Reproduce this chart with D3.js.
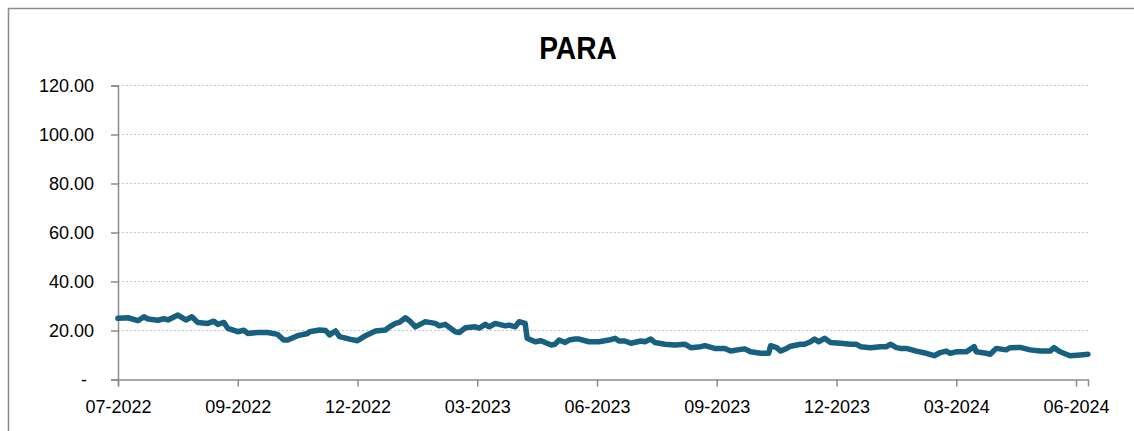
<!DOCTYPE html>
<html>
<head>
<meta charset="utf-8">
<script src="https://cdn.jsdelivr.net/npm/d3@7"></script>
<style>
    body { margin: 0; background: #ffffff; }
    svg { display: block; font-family: "Liberation Sans", Arial, sans-serif; }
</style>
</head>
<body>
<svg id="chart" width="1134" height="431"></svg>
<script>
const title = "PARA";

// trading-day offsets from the first point, and the price read at each one
const days = [
    0, 5, 10, 13, 15, 20, 23, 25, 30, 34, 37, 40, 45, 48, 50, 53, 55, 60, 63, 65,
    70, 75, 80, 83, 85, 90, 95, 96, 101, 104, 106, 109, 111, 116, 120, 124, 129, 134, 136, 139,
    141, 144, 146, 149, 154, 156, 159, 161, 164, 169, 171, 174, 179, 181, 184, 186, 189, 194, 196, 199,
    201, 204, 205, 207, 209, 212, 214, 217, 219, 221, 224, 226, 229, 231, 236, 241, 246, 249, 251, 254,
    257, 262, 264, 267, 269, 274, 279, 284, 287, 292, 294, 299, 304, 307, 312, 314, 317, 322, 326, 327,
    330, 332, 335, 337, 342, 344, 347, 349, 351, 354, 357, 362, 367, 370, 372, 377, 382, 385, 387, 390,
    392, 395, 400, 405, 409, 412, 415, 417, 420, 425, 429, 430, 435, 437, 440, 445, 447, 452, 457, 462,
    467, 469, 472, 477, 482, 486
];
const prices = [
    25.0, 25.2, 24.0, 25.6, 24.7, 24.2, 24.8, 24.3, 26.3, 24.3, 25.6, 23.3, 22.9, 23.8, 22.5, 23.3, 20.9, 19.5, 20.1, 18.8,
    19.2, 19.2, 18.4, 16.1, 16.1, 17.9, 18.8, 19.5, 20.2, 20.0, 18.2, 19.8, 17.5, 16.5, 15.8, 17.9, 19.8, 20.2, 21.5, 22.9,
    23.3, 25.2, 24.0, 21.5, 23.6, 23.3, 22.9, 21.9, 22.5, 19.5, 19.2, 21.1, 21.5, 21.0, 22.5, 21.5, 22.9, 21.9, 22.2, 21.5,
    23.6, 22.9, 16.8, 16.1, 15.4, 15.8, 15.1, 14.1, 14.4, 16.1, 15.1, 16.1, 16.5, 16.5, 15.4, 15.4, 16.1, 16.8, 15.7, 15.7,
    14.8, 15.7, 15.4, 16.5, 15.1, 14.4, 14.1, 14.4, 13.0, 13.4, 13.8, 12.7, 12.7, 11.6, 12.3, 12.5, 11.3, 10.7, 10.7, 13.8,
    13.0, 11.6, 12.7, 13.6, 14.4, 14.4, 15.4, 16.5, 15.4, 16.8, 15.1, 14.8, 14.4, 14.4, 13.4, 13.0, 13.4, 13.4, 14.4, 13.0,
    12.7, 12.7, 11.6, 10.7, 9.7, 11.0, 11.6, 10.7, 11.3, 11.3, 13.4, 11.3, 10.7, 10.3, 12.7, 12.1, 13.0, 13.1, 12.1, 11.6,
    11.6, 13.0, 11.3, 9.7, 10.0, 10.3
];

const yTicks = [0, 20, 40, 60, 80, 100, 120];
const xTickDays = [0, 60, 120, 180, 240, 300, 360, 420, 480];
const xTickLabels = ["07-2022", "09-2022", "12-2022", "03-2023", "06-2023", "09-2023", "12-2023", "03-2024", "06-2024"];
const lastDay = 486;

function drawChart() {
    const svg = d3.select("#chart");

    const left = 118, right = 1088, top = 85.5, bottom = 379.5;

    const x = d3.scaleLinear().domain([0, lastDay]).range([left, right]);
    const y = d3.scaleLinear().domain([0, 120]).range([bottom, top]);

    // outer frame (runs off the right and bottom of the picture)
    svg.append("rect")
        .attr("x", 8.5).attr("y", 8.5)
        .attr("width", 1200).attr("height", 500)
        .attr("fill", "none")
        .attr("stroke", "#8c8c8c")
        .attr("stroke-width", 1.5);

    // no narrow font installed, so squeeze the bold title a little
    svg.append("text")
        .attr("transform", "translate(578,59) scale(0.88,1)")
        .attr("text-anchor", "middle")
        .attr("font-size", "32px")
        .attr("font-weight", "bold")
        .attr("fill", "#000")
        .text(title);

    // dotted gridlines
    svg.append("g")
        .selectAll("line")
        .data(yTicks.filter(t => t > 0))
        .enter().append("line")
        .attr("x1", left).attr("x2", right + 1)
        .attr("y1", d => y(d)).attr("y2", d => y(d))
        .attr("stroke", "#c8c8c8")
        .attr("stroke-width", 1)
        .attr("stroke-dasharray", "2,2");

    const yAxis = d3.axisLeft(y)
        .tickValues(yTicks)
        .tickSize(7)
        .tickPadding(17)
        .tickFormat(d => d === 0 ? "-" : d3.format(".2f")(d));

    const gy = svg.append("g")
        .attr("transform", `translate(${left},0)`)
        .call(yAxis);

    const xAxis = d3.axisBottom(x)
        .tickValues(xTickDays)
        .tickSize(7)
        .tickPadding(14)
        .tickFormat((d, i) => xTickLabels[i]);

    const gx = svg.append("g")
        .attr("transform", `translate(0,${bottom})`)
        .call(xAxis);

    [gx, gy].forEach(g => {
        g.select(".domain").attr("stroke", "#8c8c8c").attr("stroke-width", 1.5);
        g.selectAll(".tick line").attr("stroke", "#8c8c8c").attr("stroke-width", 1.5);
        g.selectAll(".tick text")
            .attr("fill", "#000")
            .attr("font-size", "18px")
            .attr("font-family", "'Liberation Sans', Arial, sans-serif");
    });
    gy.selectAll(".tick text").filter(d => d === 0).attr("dx", "-7");

    const line = d3.line()
        .x((d, i) => x(days[i]))
        .y(d => y(d));

    svg.append("path")
        .datum(prices)
        .attr("d", line)
        .attr("fill", "none")
        .attr("stroke", "#17607f")
        .attr("stroke-width", 5.5)
        .attr("stroke-linejoin", "round")
        .attr("stroke-linecap", "round");
}

drawChart();
</script>
</body>
</html>
